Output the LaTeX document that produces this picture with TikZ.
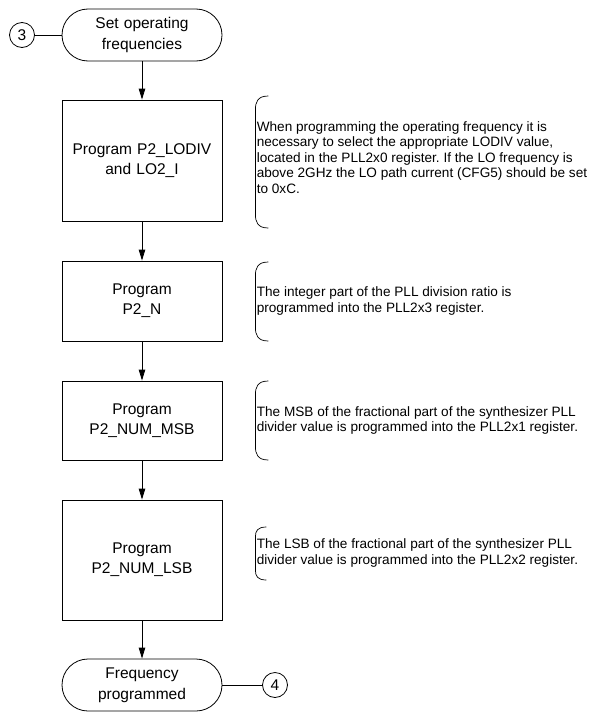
\documentclass[tikz,border=0pt]{standalone}
\usepackage{fontspec}
\setmainfont{Liberation Sans}
\usetikzlibrary{shapes,arrows.meta,positioning}
\frenchspacing

\begin{document}
\begin{tikzpicture}[node distance = 2cm, auto, line width=0.8pt]
  \tikzstyle{terminator} = [rectangle, rounded corners=26pt, draw,
    text width=150pt, align=center, minimum width=160pt, minimum height=52pt,
    inner sep=0pt, font=\fontsize{15.5}{21}\selectfont]
  \tikzstyle{block} = [rectangle, draw, text width=150pt, align=center,
    minimum width=160pt, inner sep=0pt, font=\fontsize{15.5}{20}\selectfont]
  \tikzstyle{connector} = [circle, draw, minimum size=25pt, inner sep=0pt,
    font=\fontsize{15.5}{18}\selectfont]
  \tikzstyle{note} = [align=left, inner sep=0pt, anchor=west,
    font=\fontsize{13.6}{15.5}\selectfont]
  \tikzstyle{brace} = [draw, line width=0.7pt]
  \tikzstyle{line} = [draw, -{Triangle[length=11pt,width=6.5pt]}]

  \useasboundingbox (0,0) rectangle (592pt,-712pt);

  % Place nodes
  \node [terminator] (setfreq) at (142pt,-35pt) {Set operating\\frequencies};
  \node [connector, left of=setfreq, node distance=120pt] (conthree) {3};
  \node [block, minimum height=121pt, below of=setfreq, node distance=125.5pt] (lodiv)
    {Program P2\_LODIV\\and LO2\_I};
  \node [block, minimum height=80pt, below of=lodiv, node distance=140.5pt] (pllint)
    {Program\\P2\_N};
  \node [block, minimum height=79pt, below of=pllint, node distance=119.5pt] (nummsb)
    {Program\\P2\_NUM\_MSB};
  \node [block, minimum height=120pt, below of=nummsb, node distance=139.5pt] (numlsb)
    {Program\\P2\_NUM\_LSB};
  \node [terminator, below of=numlsb, node distance=125pt] (freqdone)
    {Frequency\\programmed};
  \node [connector, right of=freqdone, node distance=133pt] (confour) {4};

  % Notes
  \node [note, right=34pt of lodiv, yshift=3pt] (notelodiv)
    {When programming the operating frequency it is\\
     necessary to select the appropriate LODIV value,\\
     located in the PLL2x0 register. If the LO frequency is\\
     above 2GHz the LO path current (CFG5) should be set\\
     to 0xC.};
  \node [note, right=34pt of pllint] (notepllint)
    {The integer part of the PLL division ratio is\\
     programmed into the PLL2x3 register.};
  \node [note, right=34pt of nummsb] (notemsb)
    {The MSB of the fractional part of the synthesizer PLL\\
     divider value is programmed into the PLL2x1 register.};
  \node [note, right=34pt of numlsb, yshift=7pt] (notelsb)
    {The LSB of the fractional part of the synthesizer PLL\\
     divider value is programmed into the PLL2x2 register.};

  % Draw braces
  \path [brace] ([shift={(46pt,64.5pt)}]lodiv.east) .. controls +(-11pt,0) and +(0,8pt)
    .. ++(-13pt,-14pt) -- ++(0,-104pt) .. controls +(0,-8pt) and +(-11pt,0) .. ++(13pt,-14pt);
  \path [brace] ([shift={(46pt,39pt)}]pllint.east) .. controls +(-11pt,0) and +(0,8pt)
    .. ++(-13pt,-14pt) -- ++(0,-51pt) .. controls +(0,-8pt) and +(-11pt,0) .. ++(13pt,-14pt);
  \path [brace] ([shift={(46pt,39.5pt)}]nummsb.east) .. controls +(-11pt,0) and +(0,8pt)
    .. ++(-13pt,-14pt) -- ++(0,-51pt) .. controls +(0,-8pt) and +(-11pt,0) .. ++(13pt,-14pt);
  \path [brace] ([shift={(44pt,33pt)}]numlsb.east) .. controls +(-9pt,0) and +(0,6pt)
    .. ++(-11pt,-10pt) -- ++(0,-33pt) .. controls +(0,-6pt) and +(-9pt,0) .. ++(11pt,-10pt);

  % Draw edges
  \path [draw] (conthree) -- (setfreq);
  \path [line] (setfreq) -- (lodiv);
  \path [line] (lodiv) -- (pllint);
  \path [line] (pllint) -- (nummsb);
  \path [line] (nummsb) -- (numlsb);
  \path [line] (numlsb) -- (freqdone);
  \path [draw] (freqdone) -- (confour);

\end{tikzpicture}
\end{document}
